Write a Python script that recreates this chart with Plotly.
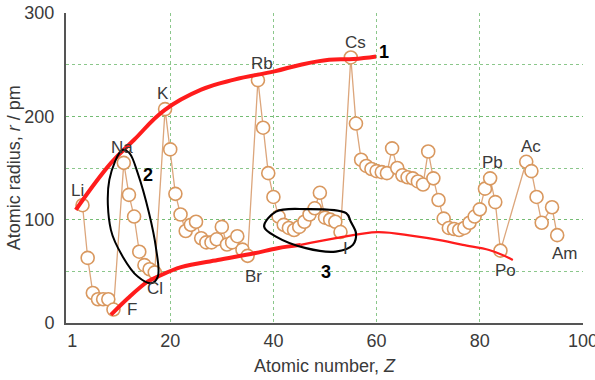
import plotly.graph_objects as go

# ---- data ----
atomic_number = [3, 4, 5, 6, 7, 8, 9,
                 11, 12, 13, 14, 15, 16, 17,
                 19, 20, 21, 22, 23, 24, 25, 26, 27, 28, 29, 30, 31, 32, 33, 34, 35,
                 37, 38, 39, 40, 41, 42, 43, 44, 45, 46, 47, 48, 49, 50, 51, 52, 53,
                 55, 56, 57, 58, 59, 60, 61, 62, 63, 64, 65, 66, 67, 68, 69, 70, 71,
                 72, 73, 74, 75, 76, 77, 78, 79, 80, 81, 82, 83, 84,
                 89, 90, 91, 92, 94, 95]
radius_pm = [114, 63, 29, 23, 23, 23, 13,
             155, 124, 103, 69, 56, 52, 49,
             207, 168, 125, 105, 89, 95, 98, 82, 78, 78, 81, 93, 76, 78, 84, 71, 65,
             235, 189, 145, 122, 103, 95, 92, 90, 93, 98, 105, 111, 126, 102, 100, 98, 88,
             257, 193, 158, 152, 149, 147, 146, 145, 169, 150, 143, 141, 140, 137, 134, 166, 140,
             119, 101, 92, 91, 90, 92, 97, 103, 110, 130, 140, 117, 70,
             156, 147, 122, 97, 112, 85]

# element labels
labelled_symbols = ["Li", "Na", "K", "Rb", "Cs", "Pb", "Ac", "Am", "Po", "Br", "Cl", "F", "I"]
labelled_z = [3, 11, 19, 37, 55, 82, 89, 95, 84, 35, 17, 9, 53]

# hand-drawn red trend curves
upper_curve_z = [1.7, 8.5, 13.0, 18.9, 26.0, 32.4, 40.2, 45.3, 50.8, 55.5, 59.9]
upper_curve_r = [109.5, 154.7, 177.3, 206, 225.8, 235.5, 243.5, 250, 254.8, 255.5, 258]
lower_curve_a_z = [8.5, 11.8, 15.6, 17.6, 22.1, 29.2, 36.3, 40.8, 45.3]
lower_curve_a_r = [7.8, 23.9, 40, 44.9, 54, 61, 67.5, 72.4, 75.6]
lower_curve_b_z = [45.3, 52.1, 60.2, 67.0, 72.8, 76.7, 81.8, 84.4, 86.4]
lower_curve_b_r = [75.6, 82.1, 87.9, 84.3, 79.7, 75.6, 70.7, 65.9, 61]

# hand-drawn black loops
loop2_z = [10.8, 8.2, 8.5, 10.8, 13.7, 16.3, 17.6, 17.2, 15.9, 13.7, 12.1, 10.8]
loop2_r = [167.6, 138.6, 90.1, 64.2, 44.9, 38.5, 44.9, 73.9, 106.3, 145.1, 164.4, 167.6]
loop3_z = [38.2, 40.5, 46.3, 54.1, 55.0, 56.0, 55.4, 52.1, 46.3, 40.5, 38.2]
loop3_r = [93.3, 107.8, 110.2, 106.3, 97.9, 86.9, 75.6, 69.1, 72.4, 83.6, 93.3]

x_ticks = [1, 20, 40, 60, 80, 100]
y_ticks = [0, 100, 200, 300]

# ---- styles ----
ORANGE = "#d9985f"
TXT = "#3a3a3a"
GRID = "rgba(110,185,110,0.8)"
FONT = "Liberation Sans, Arial, sans-serif"

label_shift = {"Li": (-5, 15), "Na": (-2, 15), "K": (-2, 16), "Rb": (4, 17),
               "Cs": (5, 15), "Pb": (2, 16), "Ac": (5, 15), "Am": (8, -18),
               "Po": (5, -20), "Br": (6, -21), "Cl": (0, -16), "F": (19, 0),
               "I": (5, -16)}

fig = go.Figure()
fig.add_trace(go.Scatter(
    x=atomic_number, y=radius_pm, mode="lines+markers",
    line=dict(color="#dca67c", width=1.3),
    marker=dict(size=13, color="white", line=dict(color=ORANGE, width=1.6)),
    hoverinfo="skip"))

RED = "#ff1c1c"
fig.add_trace(go.Scatter(x=upper_curve_z, y=upper_curve_r, mode="lines",
                         line=dict(color=RED, width=4, shape="spline", smoothing=1.2),
                         hoverinfo="skip"))
fig.add_trace(go.Scatter(x=lower_curve_a_z, y=lower_curve_a_r, mode="lines",
                         line=dict(color=RED, width=4, shape="spline"), hoverinfo="skip"))
fig.add_trace(go.Scatter(x=lower_curve_b_z, y=lower_curve_b_r, mode="lines",
                         line=dict(color=RED, width=2.2, shape="spline"), hoverinfo="skip"))
fig.add_trace(go.Scatter(x=loop2_z, y=loop2_r, mode="lines",
                         line=dict(color="black", width=2, shape="spline"), hoverinfo="skip"))
fig.add_trace(go.Scatter(x=loop3_z, y=loop3_r, mode="lines",
                         line=dict(color="black", width=2.2, shape="spline"), hoverinfo="skip"))

annotations = []
z_to_r = dict(zip(atomic_number, radius_pm))
for sym, z in zip(labelled_symbols, labelled_z):
    dx, dy = label_shift[sym]
    annotations.append(dict(x=z, y=z_to_r[z], text=sym, showarrow=False,
                            xshift=dx, yshift=dy,
                            font=dict(family=FONT, size=17, color=TXT)))

for txt, xx, yy in [("1", 61.5, 262.6), ("2", 15.7, 143.4), ("3", 50.2, 49.4)]:
    annotations.append(dict(x=xx, y=yy, text="<b>" + txt + "</b>", showarrow=False,
                            font=dict(family=FONT, size=18, color="black")))

annotations.append(dict(x=0.5, y=-0.138, xref="paper", yref="paper",
                        text="Atomic number, <i>Z</i>", showarrow=False,
                        xanchor="center", yanchor="middle",
                        font=dict(family=FONT, size=18, color=TXT)))
annotations.append(dict(x=-0.1, y=0.5, xref="paper", yref="paper",
                        text="Atomic radius, <i>r</i> / pm", showarrow=False,
                        textangle=-90, xanchor="center", yanchor="middle",
                        font=dict(family=FONT, size=18, color=TXT)))

fig.update_layout(
    width=595, height=380,
    margin=dict(l=66, r=12, t=13, b=57, autoexpand=False),
    paper_bgcolor="white", plot_bgcolor="white",
    showlegend=False,
    annotations=annotations,
    xaxis=dict(range=[-0.2, 100], tickmode="array", tickvals=x_ticks,
               ticktext=[str(v) for v in x_ticks],
               showgrid=False, zeroline=False, automargin=False,
               ticklabeloverflow="allow",
               showline=True, linecolor="#555555", linewidth=2,
               ticks="", tickfont=dict(family=FONT, size=18, color=TXT),
               minor=dict(tickmode="array", tickvals=[20, 40, 60, 80, 100],
                          showgrid=True, gridcolor=GRID, griddash="dot", gridwidth=1,
                          ticks="")),
    yaxis=dict(range=[0, 300], tickmode="array", tickvals=y_ticks,
               showgrid=True, gridcolor=GRID, griddash="dot", gridwidth=1,
               zeroline=False, automargin=False, ticklabeloverflow="allow",
               showline=True, linecolor="#555555", linewidth=2,
               ticks="", ticklabelstandoff=6,
               tickfont=dict(family=FONT, size=18, color=TXT),
               minor=dict(dtick=50, showgrid=True, gridcolor=GRID, griddash="dot",
                          gridwidth=1, ticks="")),
)

fig.write_html("out.html", config={"displayModeBar": False},
               post_script="document.body.style.margin='0';")
